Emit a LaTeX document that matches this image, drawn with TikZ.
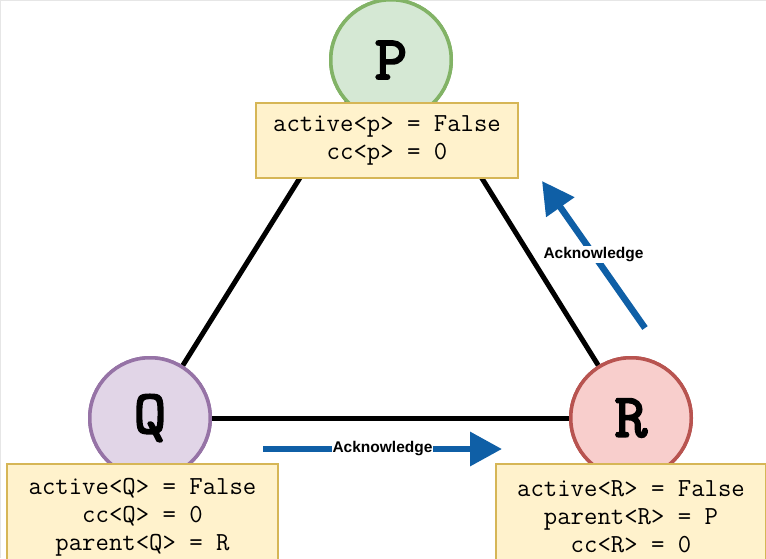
\documentclass[tikz,border=0pt]{standalone}
\usepackage{fontspec}
\setsansfont{Liberation Sans}
\newfontfamily\procfont{lmmono10-regular.otf}[FakeBold=3]
\usetikzlibrary{arrows.meta}
\definecolor{pfill}{HTML}{D5E8D4}
\definecolor{pline}{HTML}{82B366}
\definecolor{qfill}{HTML}{E1D5E7}
\definecolor{qline}{HTML}{9673A6}
\definecolor{rfill}{HTML}{F8CECC}
\definecolor{rline}{HTML}{B85450}
\definecolor{boxfill}{HTML}{FFF2CC}
\definecolor{boxline}{HTML}{D6B656}
\definecolor{ackblue}{HTML}{0F5FA6}
\definecolor{frame}{HTML}{E6E6E6}
\begin{document}
\begin{tikzpicture}[x=1pt,y=-1pt,
  proc/.style={circle, minimum size=120.5pt, inner sep=0pt, line width=3.5pt,
    font=\procfont\fontsize{62}{62}\selectfont},
  info/.style={rectangle, draw=boxline, fill=boxfill, line width=1.5pt, inner sep=0pt,
    align=center, font=\ttfamily\fontsize{26}{28}\selectfont},
  link/.style={line width=5pt, draw=black},
  msg/.style={line width=6.5pt, draw=ackblue, -{Triangle[length=32pt,width=33pt]}},
  msglabel/.style={fill=white, inner sep=1pt, text=black,
    font=\sffamily\bfseries\fontsize{15.5}{16}\selectfont}]
\useasboundingbox (0,0) rectangle (766,558);
\fill[white] (0,0) rectangle (766,558);
\draw[frame, line width=1pt] (0.5,558) -- (0.5,0.5) -- (766,0.5);

% named points
\coordinate (apex) at (391,32);
\coordinate (ackUpFrom) at (645,328);
\coordinate (ackUpTo) at (542,181);
\coordinate (ackRFrom) at (263,449);
\coordinate (ackRTo) at (502,449);

% processes (placed first so links can refer to them)
\node[proc, draw=pline, fill=pfill] (P) at (391,60) {P};
\node[proc, draw=qline, fill=qfill] (Q) at (150,418) {Q};
\node[proc, draw=rline, fill=rfill] (R) at (631,418) {R};

% links
\draw[link] (Q) -- (apex);
\draw[link] (R) -- (apex);
\draw[link] (Q) -- (R);

% messages
\draw[msg] (ackUpFrom) -- node[msglabel] (ackUpLabel) {Acknowledge} (ackUpTo);
\draw[msg] (ackRFrom) -- node[msglabel] (ackRLabel) {Acknowledge} (ackRTo);

% redraw processes on top of links
\node[proc, draw=pline, fill=pfill] (P2) at (391,60) {P};
\node[proc, draw=qline, fill=qfill] (Q2) at (150,418) {Q};
\node[proc, draw=rline, fill=rfill] (R2) at (631,418) {R};

% state boxes
\node[info, minimum width=262pt, minimum height=75pt] (Pstate) at (387,140.5)
  {active<p> = False\\cc<p> = 0};
\node[info, minimum width=271pt, minimum height=106pt] (Qstate) at (142.5,517)
  {active<Q> = False\\cc<Q> = 0\\parent<Q> = R};
\node[info, minimum width=270pt, minimum height=106pt] (Rstate) at (631,517)
  {active<R> = False\\parent<R> = P\\cc<R> = 0};
\end{tikzpicture}
\end{document}
